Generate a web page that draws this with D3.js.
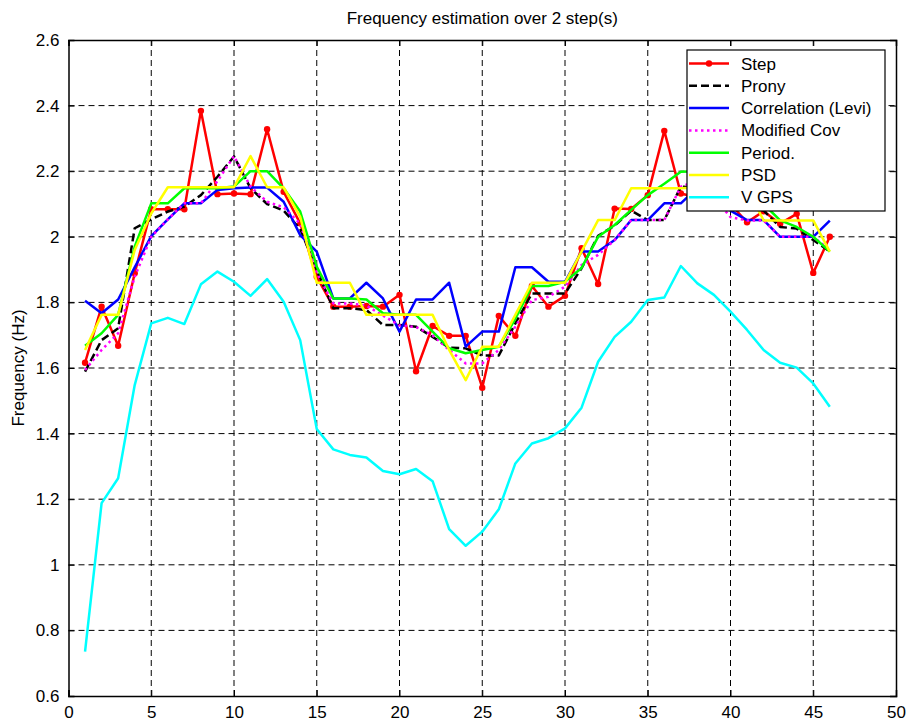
<!DOCTYPE html>
<html><head><meta charset="utf-8">
<script src="https://cdn.jsdelivr.net/npm/d3@7"></script>
<style>body{margin:0;background:#fff}svg{display:block}text{font-family:Arial,"Liberation Sans",Helvetica,sans-serif}</style>
</head><body>
<svg id="c" width="908" height="722"></svg>
<script>
const stepIdx = d3.range(1, 47);
const step   = [1.616,1.787,1.668,1.889,2.084,2.084,2.084,2.384,2.13,2.132, 2.13,2.328,2.137,2.041,1.878,1.787,1.787,1.789,1.787,1.823, 1.59,1.728,1.698,1.698,1.54,1.759,1.698,1.85,1.787,1.82, 1.965,1.856,2.086,2.085,2.127,2.323,2.132,2.12,2.15,2.1, 2.044,2.078,2.04,2.07,1.89,2.0];
const prony  = [1.589,1.685,1.721,2.026,2.053,2.077,2.092,2.127,2.183,2.245, 2.148,2.1,2.08,2.024,1.899,1.782,1.782,1.777,1.731,1.731, 1.726,1.695,1.662,1.66,1.638,1.638,1.736,1.827,1.827,1.827, 1.904,2.003,2.034,2.08,2.051,2.051,2.153,2.15,2.12,2.1, 2.1,2.08,2.03,2.025,1.99,1.955];
const levi   = [1.805,1.767,1.809,1.907,2.002,2.053,2.102,2.102,2.143,2.148, 2.15,2.15,2.107,2.005,1.955,1.812,1.812,1.86,1.812,1.711, 1.809,1.809,1.86,1.665,1.711,1.711,1.907,1.907,1.863,1.863, 1.955,1.955,1.99,2.051,2.051,2.102,2.102,2.15,2.12,2.08, 2.051,2.051,2.0,2.0,2.0,2.049];
const modcov = [1.594,1.655,1.706,1.878,2.0,2.053,2.102,2.102,2.17,2.246, 2.153,2.107,2.09,2.04,1.89,1.797,1.797,1.79,1.76,1.73, 1.725,1.7,1.655,1.614,1.614,1.655,1.726,1.807,1.817,1.848, 1.914,1.945,1.99,2.051,2.051,2.051,2.153,2.17,2.12,2.06, 2.05,2.05,2.0,2.0,2.0,1.96];
const period = [1.668,1.706,1.762,1.97,2.102,2.102,2.148,2.148,2.148,2.153, 2.2,2.2,2.148,2.077,1.909,1.812,1.812,1.809,1.767,1.762, 1.762,1.711,1.66,1.645,1.655,1.665,1.75,1.85,1.85,1.863, 1.905,2.0,2.036,2.082,2.127,2.162,2.198,2.2,2.2,2.15, 2.15,2.1,2.05,2.03,2.0,1.955];
const psd    = [1.655,1.762,1.762,1.96,2.071,2.151,2.151,2.151,2.151,2.151, 2.246,2.151,2.151,2.061,1.86,1.86,1.86,1.762,1.762,1.762, 1.762,1.762,1.655,1.563,1.665,1.665,1.762,1.86,1.86,1.86, 1.955,2.051,2.051,2.148,2.148,2.148,2.148,2.15,2.15,2.15, 2.15,2.05,2.05,2.05,2.05,1.955];
const vgps   = [0.735,1.188,1.264,1.548,1.736,1.753,1.734,1.855,1.894,1.863, 1.82,1.871,1.802,1.685,1.414,1.352,1.335,1.327,1.286,1.276, 1.292,1.255,1.109,1.058,1.101,1.169,1.309,1.37,1.386,1.416, 1.479,1.619,1.695,1.741,1.807,1.815,1.911,1.858,1.823,1.772, 1.716,1.655,1.616,1.601,1.553,1.482];

const seriesNames = ["Step","Prony","Correlation (Levi)","Modified Cov","Period.","PSD","V GPS"];
const seriesData  = [step, prony, levi, modcov, period, psd, vgps];
const xTicks = [0,5,10,15,20,25,30,35,40,45,50];
const yTicks = [0.6,0.8,1,1.2,1.4,1.6,1.8,2,2.2,2.4,2.6];
const titleText = "Frequency estimation over 2 step(s)";
const yLabelText = "Frequency (Hz)";

const styles = [
  {color:"#ff0000", dash:null, marker:true},
  {color:"#000000", dash:"8,4", marker:false},
  {color:"#0000ff", dash:null, marker:false},
  {color:"#ff00ff", dash:"2.5,3.5", marker:false},
  {color:"#00ff00", dash:null, marker:false},
  {color:"#ffff00", dash:null, marker:false},
  {color:"#00ffff", dash:null, marker:false}
];

const L = 68.5, R = 896, T = 40, B = 696;
const FS = 17;
const svg = d3.select("#c");
const x = d3.scaleLinear().domain([0,50]).range([L,R]);
const y = d3.scaleLinear().domain([0.6,2.6]).range([B,T]);

// grid
const g = svg.append("g");
g.selectAll(".vg").data(xTicks.slice(1,-1)).join("line")
  .attr("x1",d=>x(d)).attr("x2",d=>x(d)).attr("y1",T).attr("y2",B)
  .attr("stroke","#000").attr("stroke-width",1).attr("stroke-dasharray","6,4");
g.selectAll(".hg").data(yTicks.slice(1,-1)).join("line")
  .attr("y1",d=>y(d)).attr("y2",d=>y(d)).attr("x1",L).attr("x2",R)
  .attr("stroke","#000").attr("stroke-width",1).attr("stroke-dasharray","6,4");

// axes
const xa = svg.append("g").attr("transform",`translate(0,${B})`)
  .call(d3.axisBottom(x).tickValues(xTicks).tickSize(-6).tickPadding(10).tickFormat(d3.format("d")));
const xt = svg.append("g").attr("transform",`translate(0,${T})`)
  .call(d3.axisTop(x).tickValues(xTicks).tickSize(-6).tickFormat(""));
const ya = svg.append("g").attr("transform",`translate(${L},0)`)
  .call(d3.axisLeft(y).tickValues(yTicks).tickSize(-6).tickPadding(9).tickFormat(d=>d3.format("")(+d.toFixed(1))));
const yr = svg.append("g").attr("transform",`translate(${R},0)`)
  .call(d3.axisRight(y).tickValues(yTicks).tickSize(-6).tickFormat(""));
[xa,xt,ya,yr].forEach(a=>{
  a.selectAll(".domain").attr("stroke","#000").attr("stroke-width",1.5);
  a.selectAll("line").attr("stroke","#000");
  a.selectAll("text").attr("font-size",FS).attr("fill","#000").style("font-family","Arial, 'Liberation Sans', sans-serif");
});

// lines
const line = d3.line().x((d,i)=>x(stepIdx[i])).y(d=>y(d));
const plot = svg.append("g");
seriesData.forEach((arr,k)=>{
  const s = styles[k];
  plot.append("path").datum(arr).attr("d",line).attr("fill","none")
    .attr("stroke",s.color).attr("stroke-width",2.5)
    .attr("stroke-linejoin","round")
    .attr("stroke-dasharray",s.dash);
  if(s.marker){
    plot.selectAll(".m"+k).data(arr).join("circle")
      .attr("cx",(d,i)=>x(stepIdx[i])).attr("cy",d=>y(d)).attr("r",3.2).attr("fill",s.color);
  }
});

// title & label
svg.append("text").attr("x",(L+R)/2).attr("y",24).attr("text-anchor","middle")
  .attr("font-size",FS).text(titleText);
svg.append("text").attr("transform",`translate(24,${(T+B)/2}) rotate(-90)`).attr("text-anchor","middle")
  .attr("font-size",FS).text(yLabelText);

// legend
const lg = svg.append("g");
const lx = 687, ly = 50, lw = 198, lh = 161;
lg.append("rect").attr("x",lx).attr("y",ly).attr("width",lw).attr("height",lh)
  .attr("fill","#fff").attr("stroke","#000").attr("stroke-width",1.2);
seriesNames.forEach((n,k)=>{
  const s = styles[k];
  const yy = ly + 13.5 + k*22.3;
  lg.append("line").attr("x1",lx+2).attr("x2",lx+42).attr("y1",yy).attr("y2",yy)
    .attr("stroke",s.color).attr("stroke-width",2.5).attr("stroke-dasharray",s.dash);
  if(s.marker) lg.append("circle").attr("cx",lx+22).attr("cy",yy).attr("r",3.2).attr("fill",s.color);
  lg.append("text").attr("x",lx+54).attr("y",yy+6).attr("font-size",FS).text(n);
});
</script>
</body></html>
